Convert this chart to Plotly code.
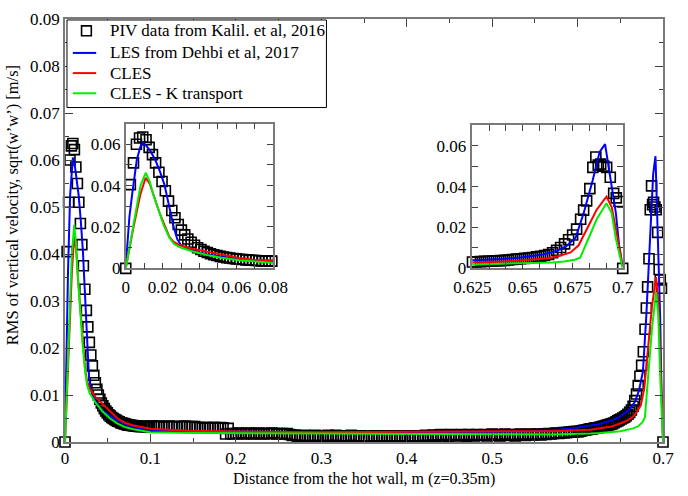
import plotly.graph_objects as go

# ---------------- PIV measurements (Kalil et al., 2016) ----------------
# near the hot wall
piv_x_hot = [0.0, 0.0025, 0.0042, 0.0058, 0.0075, 0.0092, 0.0110, 0.0127, 0.0145, 0.0162,
             0.0180, 0.0197, 0.0215, 0.0232, 0.0250, 0.0267, 0.0285, 0.0302, 0.0320, 0.0337,
             0.0355, 0.0373, 0.0390, 0.0408, 0.0425, 0.0443, 0.0460, 0.0478, 0.0495, 0.0513,
             0.0530, 0.0548, 0.0565, 0.0583, 0.0600, 0.0618, 0.0635, 0.0653, 0.0670, 0.0688,
             0.0705, 0.0723, 0.0740, 0.0758, 0.0775, 0.0793, 0.0810, 0.0828, 0.0845, 0.0863,
             0.0880, 0.0898, 0.0915, 0.0933, 0.0950, 0.0968, 0.0985]
piv_y_hot = [0.0, 0.0405, 0.0510, 0.0600, 0.0630, 0.0635, 0.0622, 0.0585, 0.0550, 0.0510,
             0.0465, 0.0420, 0.0375, 0.0325, 0.0280, 0.0245, 0.0212, 0.0185, 0.0162, 0.0142,
             0.0126, 0.0112, 0.0100, 0.0091, 0.0083, 0.0077, 0.0071, 0.0066, 0.0062, 0.0058,
             0.0055, 0.0052, 0.0050, 0.0048, 0.0046, 0.0044, 0.0043, 0.0041, 0.0040, 0.0039,
             0.0038, 0.0037, 0.0036, 0.0036, 0.0035, 0.0035, 0.0034, 0.0034, 0.0034, 0.0033,
             0.0033, 0.0033, 0.0033, 0.0033, 0.0033, 0.0033, 0.0033]

# core region
piv_x_core = [0.101, 0.104, 0.107, 0.110, 0.113, 0.116, 0.119, 0.122, 0.125, 0.128,
              0.131, 0.134, 0.137, 0.140, 0.143, 0.146, 0.149, 0.152, 0.155, 0.158,
              0.161, 0.164, 0.167, 0.170, 0.173, 0.176, 0.179, 0.182, 0.185, 0.188,
              0.191, 0.194, 0.197, 0.200, 0.203, 0.206, 0.209, 0.212, 0.215, 0.218,
              0.221, 0.224, 0.227, 0.230, 0.233, 0.236, 0.239, 0.242, 0.245, 0.248,
              0.251, 0.254, 0.257, 0.260, 0.263, 0.266, 0.269, 0.272, 0.275, 0.278,
              0.281, 0.284, 0.287, 0.290, 0.293, 0.296, 0.299, 0.302, 0.305, 0.308,
              0.311, 0.314, 0.317, 0.320, 0.323, 0.326, 0.329, 0.332, 0.335, 0.338,
              0.341, 0.344, 0.347, 0.350, 0.353, 0.356, 0.359, 0.362, 0.365, 0.368,
              0.371, 0.374, 0.377, 0.380, 0.383, 0.386, 0.389, 0.392, 0.395, 0.398,
              0.401, 0.404, 0.407, 0.410, 0.413, 0.416, 0.419, 0.422, 0.425, 0.428,
              0.431, 0.434, 0.437, 0.440, 0.443, 0.446, 0.449, 0.452, 0.455, 0.458,
              0.461, 0.464, 0.467, 0.470, 0.473, 0.476, 0.479, 0.482, 0.485, 0.488,
              0.491, 0.494, 0.497, 0.500, 0.503, 0.506, 0.509, 0.512, 0.515, 0.518,
              0.521, 0.524, 0.527, 0.530, 0.533, 0.536, 0.539, 0.542, 0.545, 0.548,
              0.551, 0.554, 0.557, 0.560, 0.563, 0.566, 0.569, 0.572, 0.575, 0.578,
              0.581, 0.584, 0.587, 0.590, 0.593, 0.596, 0.599]
piv_y_core = [0.0034, 0.0033, 0.0033, 0.0034, 0.0033, 0.0032, 0.0033, 0.0034, 0.0033, 0.0033,
              0.0032, 0.0033, 0.0033, 0.0034, 0.0033, 0.0032, 0.0033, 0.0033, 0.0031, 0.0031,
              0.0030, 0.0031, 0.0031, 0.0030, 0.0031, 0.0031, 0.0030, 0.0031, 0.0030, 0.0017,
              0.0029, 0.0018, 0.0017, 0.0018, 0.0019, 0.0018, 0.0017, 0.0018, 0.0019, 0.0018,
              0.0017, 0.0018, 0.0019, 0.0018, 0.0017, 0.0018, 0.0018, 0.0019, 0.0018, 0.0017,
              0.0018, 0.0018, 0.0017, 0.0018, 0.0016, 0.0014, 0.0015, 0.0011, 0.0013, 0.0010,
              0.0014, 0.0011, 0.0013, 0.0010, 0.0014, 0.0012, 0.0010, 0.0013, 0.0011, 0.0014,
              0.0010, 0.0012, 0.0014, 0.0011, 0.0010, 0.0013, 0.0012, 0.0010, 0.0014, 0.0011,
              0.0012, 0.0010, 0.0013, 0.0011, 0.0012, 0.0010, 0.0012, 0.0013, 0.0011, 0.0012,
              0.0011, 0.0013, 0.0012, 0.0010, 0.0012, 0.0013, 0.0011, 0.0012, 0.0010, 0.0013,
              0.0012, 0.0011, 0.0013, 0.0012, 0.0011, 0.0013, 0.0012, 0.0014, 0.0012, 0.0013,
              0.0015, 0.0012, 0.0014, 0.0016, 0.0013, 0.0015, 0.0012, 0.0016, 0.0014, 0.0015,
              0.0013, 0.0016, 0.0014, 0.0012, 0.0016, 0.0015, 0.0013, 0.0016, 0.0014, 0.0015,
              0.0016, 0.0013, 0.0015, 0.0017, 0.0014, 0.0016, 0.0013, 0.0015, 0.0017, 0.0014,
              0.0016, 0.0015, 0.0013, 0.0016, 0.0017, 0.0015, 0.0014, 0.0016, 0.0017, 0.0015,
              0.0016, 0.0017, 0.0015, 0.0017, 0.0016, 0.0018, 0.0017, 0.0018, 0.0019, 0.0018,
              0.0019, 0.0020, 0.0020, 0.0021, 0.0021, 0.0022, 0.0022]

# near the cold wall
piv_x_cold = [0.601, 0.603, 0.605, 0.607, 0.609, 0.611, 0.613, 0.615, 0.617, 0.619,
              0.621, 0.623, 0.625, 0.627, 0.629, 0.631, 0.633, 0.635, 0.637, 0.639,
              0.641, 0.643, 0.645, 0.647, 0.649, 0.651, 0.653, 0.655, 0.657, 0.659,
              0.661, 0.663, 0.665, 0.667, 0.669, 0.671, 0.673, 0.675, 0.677, 0.679,
              0.6805, 0.6820, 0.6836, 0.6851, 0.6866, 0.6878, 0.6890, 0.6905, 0.6920, 0.6938,
              0.6955, 0.6968, 0.6982, 0.7000]
piv_y_cold = [0.0022, 0.0023, 0.0024, 0.0025, 0.0025, 0.0026, 0.0027, 0.0028, 0.0028, 0.0029,
              0.0030, 0.0030, 0.0031, 0.0032, 0.0033, 0.0034, 0.0035, 0.0036, 0.0037, 0.0038,
              0.0039, 0.0041, 0.0043, 0.0045, 0.0047, 0.0049, 0.0051, 0.0053, 0.0056, 0.0059,
              0.0063, 0.0068, 0.0076, 0.0088, 0.0102, 0.0120, 0.0140, 0.0163, 0.0192, 0.0240,
              0.0285, 0.0330, 0.0390, 0.0494, 0.0545, 0.0505, 0.0510, 0.0500, 0.0494, 0.0446,
              0.0367, 0.0345, 0.0327, 0.0]

piv_x = piv_x_hot + piv_x_core + piv_x_cold
piv_y = piv_y_hot + piv_y_core + piv_y_cold

# ---------------- LES (Dehbi et al., 2017) ----------------
les_x = [0.0, 0.002, 0.0035, 0.006, 0.0080, 0.0092, 0.0110, 0.0135, 0.0160, 0.0185,
         0.0210, 0.0235, 0.0260, 0.0280, 0.0300, 0.0340, 0.0400, 0.0460, 0.0520, 0.0600,
         0.0700, 0.0800, 0.0900, 0.1000, 0.1200, 0.1500, 0.2000, 0.2500, 0.3000, 0.3500,
         0.4000, 0.4500, 0.5000, 0.5400, 0.5700, 0.5900, 0.6100, 0.6250, 0.6400, 0.6500,
         0.6600, 0.6670, 0.6720, 0.6765, 0.6805, 0.6850, 0.6885, 0.6912, 0.6935, 0.6966,
         0.6982, 0.7000]
les_y = [0.0010, 0.0250, 0.0360, 0.0525, 0.0590, 0.0605, 0.0595, 0.0565, 0.0525, 0.0470,
         0.0405, 0.0310, 0.0200, 0.0140, 0.0112, 0.0092, 0.0075, 0.0064, 0.0056, 0.0047,
         0.0038, 0.0032, 0.0028, 0.0026, 0.0024, 0.0023, 0.0022, 0.0021, 0.0021, 0.0021,
         0.0021, 0.0021, 0.0022, 0.0023, 0.0025, 0.0028, 0.0033, 0.0038, 0.0046, 0.0054,
         0.0068, 0.0085, 0.0110, 0.0150, 0.0270, 0.0430, 0.0570, 0.0608, 0.0470, 0.0270,
         0.0113, 0.0010]

# ---------------- CLES ----------------
cles_x = [0.0, 0.0040, 0.0080, 0.0108, 0.0130, 0.0155, 0.0183, 0.0210, 0.0237, 0.0260,
          0.0290, 0.0360, 0.0440, 0.0520, 0.0615, 0.0700, 0.0800, 0.1000, 0.1450, 0.2200,
          0.2600, 0.3000, 0.4000, 0.5000, 0.5700, 0.6150, 0.6400, 0.6550, 0.6625, 0.6680,
          0.6740, 0.6780, 0.6820, 0.6870, 0.6919, 0.6945, 0.6966, 0.6985, 0.7000]
cles_y = [0.0, 0.0190, 0.0360, 0.0438, 0.0410, 0.0340, 0.0270, 0.0210, 0.0152, 0.0128,
          0.0113, 0.0095, 0.0081, 0.0066, 0.0050, 0.0041, 0.0035, 0.0028, 0.0024, 0.0022,
          0.0021, 0.0021, 0.0022, 0.0022, 0.0023, 0.0026, 0.0033, 0.0043, 0.0050, 0.0060,
          0.0078, 0.0113, 0.0192, 0.0287, 0.0351, 0.0300, 0.0192, 0.0080, 0.0010]

# ---------------- CLES - K transport ----------------
clesk_x = [0.0, 0.0040, 0.0080, 0.0108, 0.0130, 0.0150, 0.0175, 0.0205, 0.0237, 0.0260,
           0.0290, 0.0360, 0.0440, 0.0520, 0.0615, 0.0700, 0.0800, 0.1000, 0.1500, 0.2200,
           0.3000, 0.4000, 0.5000, 0.5700, 0.6150, 0.6260, 0.6500, 0.6650, 0.6707, 0.6760,
           0.6788, 0.6820, 0.6870, 0.6919, 0.6945, 0.6966, 0.6985, 0.7000]
clesk_y = [0.0, 0.0200, 0.0400, 0.0462, 0.0420, 0.0355, 0.0287, 0.0210, 0.0148, 0.0120,
           0.0103, 0.0083, 0.0065, 0.0051, 0.0039, 0.0032, 0.0027, 0.0021, 0.0019, 0.0019,
           0.0018, 0.0017, 0.0016, 0.0016, 0.0018, 0.0019, 0.0023, 0.0029, 0.0033, 0.0042,
           0.0052, 0.0129, 0.0240, 0.0319, 0.0270, 0.0144, 0.0060, 0.0]

PIV_NAME = "PIV data from Kalil. et al, 2016"
series = [
    ("LES from Dehbi et al, 2017", les_x, les_y, "#0000ff"),
    ("CLES", cles_x, cles_y, "#ff0000"),
    ("CLES - K transport", clesk_x, clesk_y, "#00ee00"),
]

FONT = "Liberation Serif, Times New Roman, serif"
FRAME = "#7a7a7a"
TICK = "#404040"

fig = go.Figure()

for i, (xa, ya) in enumerate([("x", "y"), ("x2", "y2"), ("x3", "y3")]):
    fig.add_trace(go.Scatter(
        x=piv_x, y=piv_y, mode="markers", xaxis=xa, yaxis=ya,
        name=PIV_NAME, showlegend=False, cliponaxis=False,
        marker=dict(symbol="square-open", size=10, color="black",
                    line=dict(width=1.6, color="black")),
    ))
    for name, sx, sy, col in series:
        fig.add_trace(go.Scatter(
            x=sx, y=sy, mode="lines", xaxis=xa, yaxis=ya, name=name,
            showlegend=False, line=dict(color=col, width=2),
        ))

tickfont = dict(family=FONT, size=17, color="black")
axis_common = dict(
    showline=True, mirror="allticks", linecolor=FRAME, linewidth=1.5,
    ticks="inside", tickcolor=TICK, tickwidth=1,
    showgrid=False, zeroline=False, tickfont=tickfont,
)

# ---- legend box (drawn in paper coordinates) ----
L_X0, L_X1, L_Y0, L_Y1 = 0.0033, 0.4372, 0.7907, 0.9977
row_y = [0.9721, 0.9198, 0.8721, 0.8244]
sym_x0, sym_x1 = 0.0131, 0.0522
sq_x0, sq_x1, sq_h = 0.0277, 0.0440, 0.0116
text_x = 0.0718

shapes = [dict(type="rect", xref="paper", yref="paper", x0=L_X0, x1=L_X1, y0=L_Y0, y1=L_Y1,
               line=dict(color="black", width=1), fillcolor="white", layer="above")]
shapes.append(dict(type="rect", xref="paper", yref="paper", x0=sq_x0, x1=sq_x1,
                   y0=row_y[0] - sq_h, y1=row_y[0] + sq_h,
                   line=dict(color="black", width=1.6), layer="above"))
for (name, _, _, col), ry in zip(series, row_y[1:]):
    shapes.append(dict(type="line", xref="paper", yref="paper", x0=sym_x0, x1=sym_x1,
                       y0=ry, y1=ry, line=dict(color=col, width=2), layer="above"))

legend_names = [PIV_NAME] + [s[0] for s in series]
annotations = [
    dict(text=nm, xref="paper", yref="paper", x=text_x, y=ry, xanchor="left",
         yanchor="middle", showarrow=False, font=dict(family=FONT, size=17, color="black"))
    for nm, ry in zip(legend_names, row_y)
]
annotations += [
    dict(text="Distance from the hot wall, m (z=0.35m)", xref="paper", yref="paper",
         x=0.5, y=-0.088, xanchor="center", yanchor="middle", showarrow=False,
         font=dict(family=FONT, size=16, color="black")),
    dict(text="RMS of vertical velocity, sqrt(w\u2019w\u2019) [m/s]", xref="paper", yref="paper",
         x=-0.0865, y=0.5605, xanchor="center", yanchor="middle", textangle=-90,
         showarrow=False, font=dict(family=FONT, size=16.5, color="black")),
]

fig.update_layout(
    width=688, height=496,
    margin=dict(l=65, r=10, t=12, b=54),
    paper_bgcolor="white", plot_bgcolor="white",
    font=dict(family=FONT, size=16, color="black"),
    showlegend=False,
    xaxis=dict(range=[0, 0.7], dtick=0.1, tick0=0, ticklen=8,
               minor=dict(dtick=0.05, ticklen=4, ticks="inside", tickcolor=TICK),
               **axis_common),
    yaxis=dict(range=[0, 0.09], dtick=0.01, tick0=0, ticklen=8,
               minor=dict(dtick=0.005, ticklen=4, ticks="inside", tickcolor=TICK),
               **axis_common),
    xaxis2=dict(domain=[0.1016, 0.348], anchor="y2", range=[0, 0.08], dtick=0.02, tick0=0,
                ticklen=6, ticklabelstandoff=2,
                minor=dict(dtick=0.01, ticklen=6, ticks="inside", tickcolor=TICK),
                **axis_common),
    yaxis2=dict(domain=[0.4105, 0.7528], anchor="x2", range=[0, 0.07], dtick=0.02, tick0=0,
                ticklen=6, minor=dict(dtick=0.01, ticklen=6, ticks="inside", tickcolor=TICK),
                **axis_common),
    xaxis3=dict(domain=[0.6814, 0.9326], anchor="y3", range=[0.625, 0.7], dtick=0.025,
                tick0=0.625, ticklen=6, ticklabelstandoff=2,
                minor=dict(dtick=0.025 / 3, ticklen=6, ticks="inside", tickcolor=TICK),
                **axis_common),
    yaxis3=dict(domain=[0.4105, 0.7488], anchor="x3", range=[0, 0.07], dtick=0.02, tick0=0,
                ticklen=6, ticklabelstandoff=1,
                minor=dict(dtick=0.01, ticklen=6, ticks="inside", tickcolor=TICK),
                **axis_common),
    shapes=shapes,
    annotations=annotations,
)

fig.write_html("out.html")
